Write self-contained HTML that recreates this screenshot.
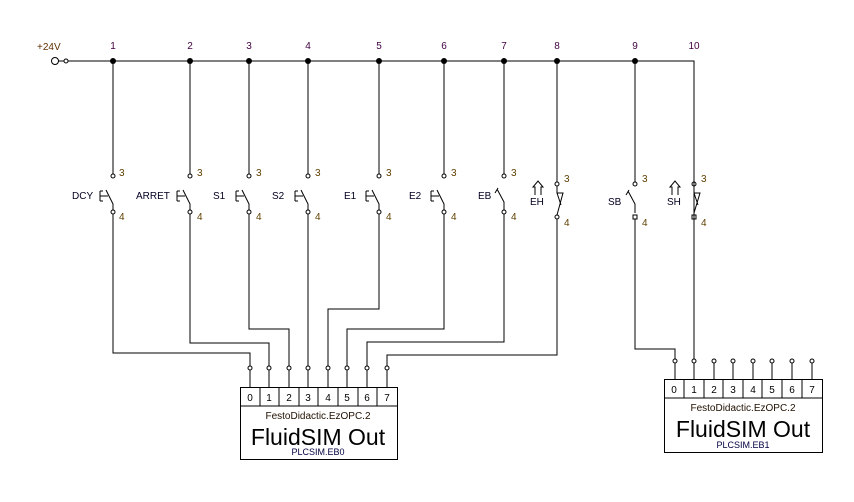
<!DOCTYPE html>
<html><head><style>body{margin:0;background:#fff}svg{display:block}</style></head><body>
<svg width="854" height="502" viewBox="0 0 854 502" xmlns="http://www.w3.org/2000/svg" font-family="Liberation Sans, sans-serif">
<g stroke="#000" stroke-width="1" fill="none">
<circle cx="55" cy="61" r="3.5"/><circle cx="66" cy="61" r="2"/>
<path d="M58.5 61H64M68 61H694V360"/>
<path d="M113 61V174M190 61V174M249 61V174M308 61V174M379 61V174M444 61V174M504 61V174M557 61V182M635 61V182"/>
<path d="M113 214V353H250V366M190 214V343H269V366M249 214V329H289V366M308 214V366M379 214V309H328V366M444 214V329H347V366M504 214V342H367V366M557 219V355H387V366"/>
<path d="M635 219V349H675V359"/>
<path d="M250 370V388M269 370V388M289 370V388M308 370V388M328 370V388M347 370V388M367 370V388M387 370V388"/>
<path d="M675 363V380M694 363V380M714 363V380M733 363V380M753 363V380M772 363V380M792 363V380M812 363V380"/>
<g>
<circle cx="113" cy="176" r="2"/><circle cx="113" cy="212" r="2"/>
<circle cx="190" cy="176" r="2"/><circle cx="190" cy="212" r="2"/>
<circle cx="249" cy="176" r="2"/><circle cx="249" cy="212" r="2"/>
<circle cx="308" cy="176" r="2"/><circle cx="308" cy="212" r="2"/>
<circle cx="379" cy="176" r="2"/><circle cx="379" cy="212" r="2"/>
<circle cx="444" cy="176" r="2"/><circle cx="444" cy="212" r="2"/>
<circle cx="504" cy="176" r="2"/><circle cx="504" cy="212" r="2"/>
<circle cx="557" cy="184" r="2"/><circle cx="557" cy="217" r="2"/>
<circle cx="635" cy="184" r="2"/><rect x="633" y="215" width="4" height="4"/>
<circle cx="694" cy="184" r="2"/><rect x="692" y="215" width="4" height="4"/>
</g>
<path d="M113 210V204L106 190M190 210V204L183 190M249 210V204L242 190M308 210V204L301 190M379 210V204L372 190M444 210V204L437 190"/>
<path d="M108 196H100M185 196H177M244 196H236M303 196H295M374 196H366M439 196H431"/>
<path d="M100 191V201M177 191V201M236 191V201M295 191V201M366 191V201M431 191V201"/>
<path d="M100 191H103M177 191H180M236 191H239M295 191H298M366 191H369M431 191H434"/>
<path d="M100 201H103M177 201H180M236 201H239M295 201H298M366 201H369M431 201H434"/>
<path d="M504 210V202L497 189M498 188L495 193"/>
<path d="M635 213V204L628 191M629 190L626 195"/>
<path d="M557 186V193L563 193L557 215M557 193L561 205"/>
<path d="M694 186V193L700 193L694 213M694 193L698 205"/>
<path d="M694 219V229"/>
<path d="M535 195V187H533L538 181L543 187H541V195"/>
<path d="M672 195V187H670L675 181L680 187H678V195"/>
<rect x="240.5" y="387.5" width="157" height="72"/>
<path d="M240 406H397M260 388V406M279 388V406M299 388V406M318 388V406M338 388V406M358 388V406M377 388V406"/>
<rect x="664.5" y="379.5" width="158" height="73"/>
<path d="M664 398H822M684 380V398M704 380V398M723 380V398M743 380V398M762 380V398M782 380V398M802 380V398"/>
</g>
<g stroke="#000" fill="#fff">
<circle cx="250" cy="368" r="2"/><circle cx="269" cy="368" r="2"/><circle cx="289" cy="368" r="2"/><circle cx="308" cy="368" r="2"/><circle cx="328" cy="368" r="2"/><circle cx="347" cy="368" r="2"/><circle cx="367" cy="368" r="2"/><circle cx="387" cy="368" r="2"/>
<circle cx="675" cy="361" r="2"/><circle cx="694" cy="361" r="2"/><circle cx="714" cy="361" r="2"/><circle cx="733" cy="361" r="2"/><circle cx="753" cy="361" r="2"/><circle cx="772" cy="361" r="2"/><circle cx="792" cy="361" r="2"/><circle cx="812" cy="361" r="2"/>
</g>
<g fill="#000">
<circle cx="113" cy="61" r="3"/><circle cx="190" cy="61" r="3"/><circle cx="249" cy="61" r="3"/><circle cx="308" cy="61" r="3"/><circle cx="379" cy="61" r="3"/><circle cx="444" cy="61" r="3"/><circle cx="504" cy="61" r="3"/><circle cx="557" cy="61" r="3"/><circle cx="635" cy="61" r="3"/>
</g>
<g font-size="10" fill="#400040" text-anchor="middle">
<text x="113" y="49">1</text><text x="190" y="49">2</text><text x="249" y="49">3</text><text x="308" y="49">4</text><text x="379" y="49">5</text><text x="444" y="49">6</text><text x="504" y="49">7</text><text x="557" y="49">8</text><text x="635" y="49">9</text><text x="694" y="49">10</text>
</g>
<text x="37" y="50" font-size="10" fill="#603000">+24V</text>
<g font-size="10" fill="#604000">
<text x="119" y="176">3</text><text x="119" y="220">4</text>
<text x="197" y="176">3</text><text x="197" y="220">4</text>
<text x="256" y="176">3</text><text x="256" y="220">4</text>
<text x="315" y="176">3</text><text x="315" y="220">4</text>
<text x="386" y="176">3</text><text x="386" y="220">4</text>
<text x="451" y="176">3</text><text x="451" y="220">4</text>
<text x="511" y="176">3</text><text x="511" y="220">4</text>
<text x="564" y="182">3</text><text x="564" y="226">4</text>
<text x="642" y="182">3</text><text x="642" y="226">4</text>
<text x="701" y="182">3</text><text x="701" y="226">4</text>
</g>
<g font-size="10" fill="#000020">
<text x="72" y="199">DCY</text><text x="136" y="199">ARRET</text><text x="213" y="199">S1</text><text x="272" y="199">S2</text><text x="344" y="199">E1</text><text x="409" y="199">E2</text><text x="478" y="199">EB</text><text x="530" y="205">EH</text><text x="608" y="205">SB</text><text x="667" y="205">SH</text>
</g>
<g font-size="10" fill="#000" text-anchor="middle">
<text x="250" y="401">0</text><text x="269" y="401">1</text><text x="289" y="401">2</text><text x="308" y="401">3</text><text x="328" y="401">4</text><text x="347" y="401">5</text><text x="367" y="401">6</text><text x="387" y="401">7</text>
<text x="674" y="393">0</text><text x="694" y="393">1</text><text x="714" y="393">2</text><text x="733" y="393">3</text><text x="753" y="393">4</text><text x="772" y="393">5</text><text x="792" y="393">6</text><text x="812" y="393">7</text>
<text x="318" y="419" font-size="10" fill="#201000">FestoDidactic.EzOPC.2</text>
<text x="318" y="445" font-size="23">FluidSIM Out</text>
<text x="318" y="455" font-size="9" fill="#000040">PLCSIM.EB0</text>
<text x="743" y="411" font-size="10" fill="#201000">FestoDidactic.EzOPC.2</text>
<text x="743" y="437" font-size="23">FluidSIM Out</text>
<text x="743" y="448" font-size="9" fill="#000040">PLCSIM.EB1</text>
</g>
</svg>
</body></html>
